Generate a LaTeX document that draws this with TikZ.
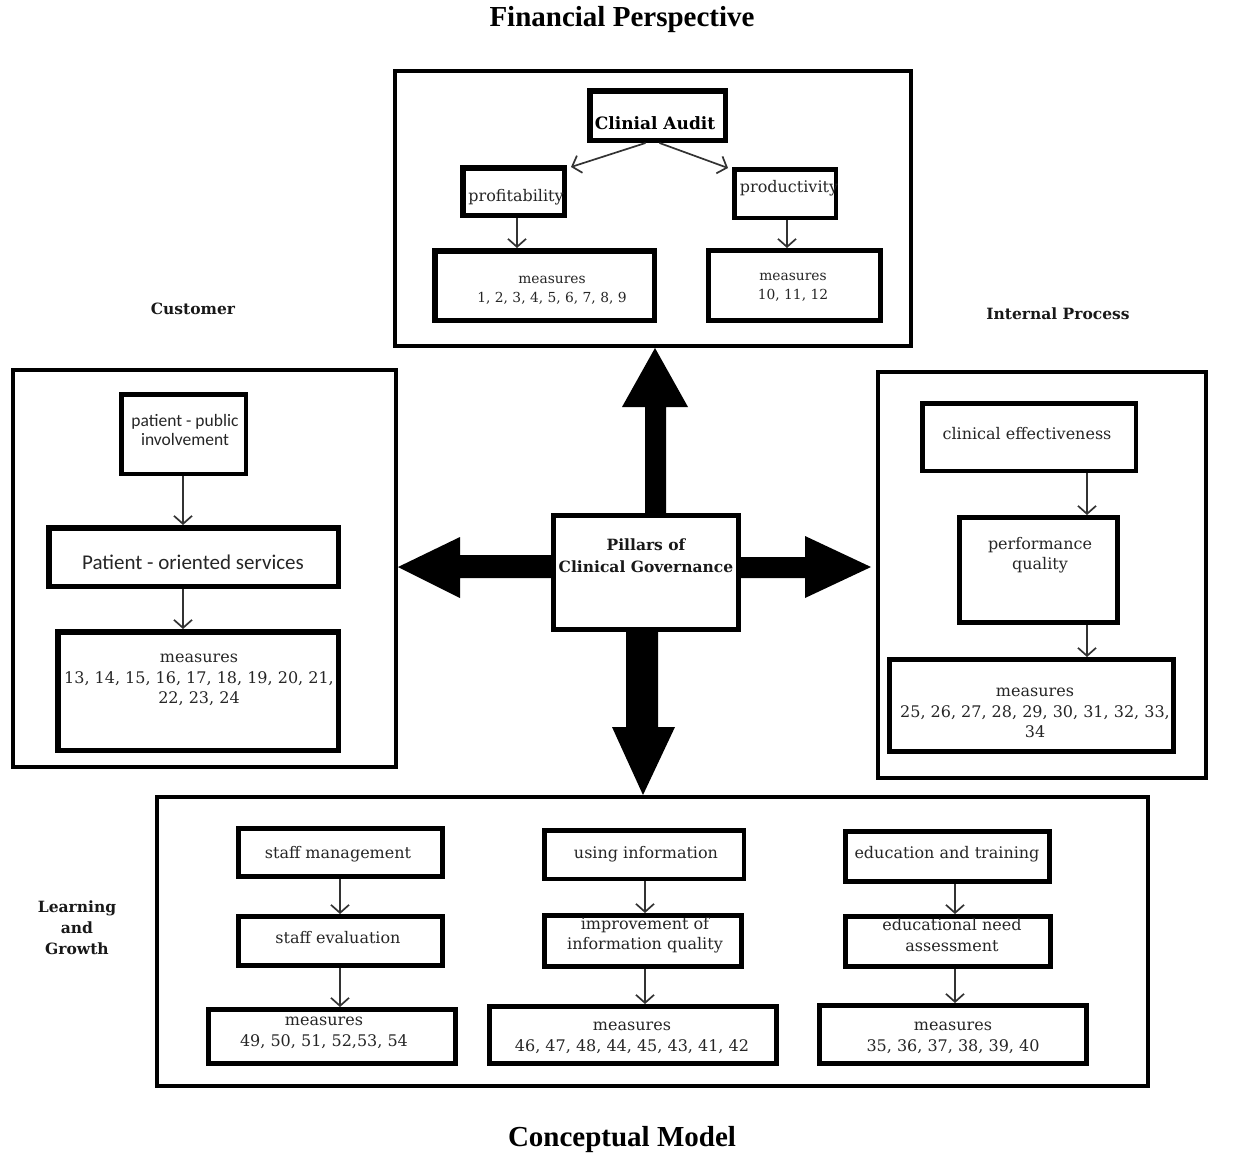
\documentclass[tikz,border=0pt]{standalone}
\usepackage{fontspec}
\setmainfont{DejaVu Serif}
\newfontfamily\ttlfont{Liberation Serif}
\newfontfamily\sansf{Carlito}
\usetikzlibrary{arrows.meta}
\begin{document}
\begin{tikzpicture}[x=1pt,y=-1pt,
  bx/.style={draw, fill=white, inner sep=0pt, line width=5pt},
  outerbox/.style={draw, inner sep=0pt, line width=4pt},
  txt/.style={inner sep=0pt, align=center, text=black!85, font=\fontsize{16}{20.5}\selectfont},
  smalltxt/.style={inner sep=0pt, align=center, text=black!85, font=\fontsize{13.8}{19}\selectfont},
  head/.style={inner sep=0pt, align=center, text=black!90, font=\fontsize{15.5}{21}\selectfont\bfseries},
  ttl/.style={inner sep=0pt, font=\fontsize{29}{32}\selectfont\ttlfont\bfseries},
  sarr/.style={line width=1.7pt, draw=black!80, -{Straight Barb[length=8pt,width=18pt]}},
  bigarr/.style={fill=black}
]
\useasboundingbox (0,0) rectangle (1243,1157);

% titles and panel labels
\node[ttl] (tfin) at (622,20) {Financial Perspective};
\node[ttl] (tcm) at (622,1140) {Conceptual Model};
\node[head] (tcust) at (193,309) {Customer};
\node[head] (tint) at (1058,314) {Internal Process};
\node[head] (tlg) at (77,928) {Learning\\and\\Growth};

% outer panels
\node[outerbox, minimum width=516, minimum height=275] (fin) at (653,208.5) {};
\node[outerbox, minimum width=383, minimum height=397] (cust) at (204.5,568.5) {};
\node[outerbox, minimum width=328, minimum height=406] (intp) at (1042,575) {};
\node[outerbox, minimum width=991, minimum height=289] (learn) at (652.5,941.5) {};

% centre box
\node[bx, minimum width=185, minimum height=114] (pil) at (646,572.5) {};
\node[head, font=\fontsize{15.5}{22}\selectfont\bfseries] (pilt) at (646,556) {Pillars of\\Clinical Governance};

% big arrows
\fill[bigarr] (pil.north -| 645,0) -- (645,407) -- (622,407) -- (fin.south -| 655,0) -- (688,407) -- (666,407) -- (pil.north -| 666,0) -- cycle;
\fill[bigarr] (pil.east |- 0,557) -- (805,557) -- (805,536) -- (871,567) -- (805,598) -- (805,578) -- (pil.east |- 0,578) -- cycle;
\fill[bigarr] (pil.west |- 0,555) -- (460,555) -- (460,537) -- (cust.east |- 0,567) -- (460,598) -- (460,578) -- (pil.west |- 0,578) -- cycle;
\fill[bigarr] (pil.south -| 626,0) -- (626,727) -- (612,727) -- (learn.north -| 643,0) -- (675,727) -- (658,727) -- (pil.south -| 658,0) -- cycle;

% ---- Financial
\node[bx, line width=5.5pt, minimum width=135.5, minimum height=49.5] (audit) at (657.5,115.5) {};
\node[head, font=\fontsize{17}{20}\selectfont\bfseries, text=black] (auditt) at (655,123) {Clinial Audit};
\node[bx, line width=5.5pt, minimum width=101.5, minimum height=47.5] (profit) at (513.5,191.5) {};
\node[txt] (profitt) at (516,197) {profitability};
\node[bx, line width=4.5pt, minimum width=101.5, minimum height=48.5] (prod) at (785,193.5) {};
\node[txt] (prodt) at (789,188) {productivity};
\node[bx, line width=5.5pt, minimum width=219.5, minimum height=69.5] (m1) at (544.5,285.5) {};
\node[smalltxt] (m1t) at (552,290) {measures\\1, 2, 3, 4, 5, 6, 7, 8, 9};
\node[bx, minimum width=172, minimum height=70] (m10) at (794.5,285.5) {};
\node[smalltxt] (m10t) at (793,287) {measures\\10, 11, 12};

\draw[sarr] ([xshift=-12pt]audit.south) -- ([xshift=4pt,yshift=-2pt]profit.north east);
\draw[sarr] ([xshift=2pt]audit.south) -- ([xshift=-4pt,yshift=-1pt]prod.north west);
\draw[sarr] (profit.south -| 517,0) -- (m1.north -| 517,0);
\draw[sarr] (prod.south -| 787,0) -- (m10.north -| 787,0);

% ---- Customer
\node[bx, line width=4.5pt, minimum width=124.5, minimum height=79.5] (ppi) at (183.5,434) {};
\node[txt, font=\fontsize{17.5}{19}\selectfont\sansf] (ppit) at (185,430) {patient - public\\involvement};
\node[bx, line width=5.5pt, minimum width=289.5, minimum height=58.5] (pos) at (193.5,557) {};
\node[txt, font=\fontsize{21}{22}\selectfont\sansf] (post) at (193,562) {Patient - oriented services};
\node[bx, line width=5.5pt, minimum width=280.5, minimum height=118.5] (m13) at (198,691) {};
\node[txt] (m13t) at (199,680) {measures\\13, 14, 15, 16, 17, 18, 19, 20, 21,\\22, 23, 24};

\draw[sarr] (ppi.south -| 183,0) -- (pos.north -| 183,0);
\draw[sarr] (pos.south -| 183,0) -- (m13.north -| 183,0);

% ---- Internal Process
\node[bx, line width=4.5pt, minimum width=213.5, minimum height=67.5] (ce) at (1029,437) {};
\node[txt] (cet) at (1027,434) {clinical effectiveness};
\node[bx, minimum width=158, minimum height=105] (pq) at (1038.5,570) {};
\node[txt] (pqt) at (1040,555) {performance\\quality};
\node[bx, minimum width=284, minimum height=92] (m25) at (1031.5,705.5) {};
\node[txt] (m25t) at (1035,713) {measures\\25, 26, 27, 28, 29, 30, 31, 32, 33,\\34};

\draw[sarr] (ce.south -| 1087,0) -- (pq.north -| 1087,0);
\draw[sarr] (pq.south -| 1087,0) -- (m25.north -| 1087,0);

% ---- Learning and Growth
\node[bx, minimum width=204, minimum height=48] (sm) at (340.5,852.5) {};
\node[txt] (smt) at (338,854) {staff management};
\node[bx, minimum width=204, minimum height=49] (se) at (340.5,941) {};
\node[txt] (set) at (338,938) {staff evaluation};
\node[bx, minimum width=247, minimum height=54] (m49) at (332,1036.5) {};
\node[txt] (m49t) at (324,1033) {measures\\49, 50, 51, 52,53, 54};
\draw[sarr] (sm.south -| 340,0) -- (se.north -| 340,0);
\draw[sarr] (se.south -| 340,0) -- (m49.north -| 340,0);

\node[bx, line width=4.5pt, minimum width=199.5, minimum height=48.5] (ui) at (644,854.5) {};
\node[txt] (uit) at (646,854) {using information};
\node[bx, minimum width=197, minimum height=51] (iiq) at (643,941) {};
\node[txt] (iiqt) at (645,935) {improvement of\\information quality};
\node[bx, minimum width=287, minimum height=57] (m46) at (633,1035) {};
\node[txt] (m46t) at (632,1038) {measures\\46, 47, 48, 44, 45, 43, 41, 42};
\draw[sarr] (ui.south -| 645,0) -- (iiq.north -| 645,0);
\draw[sarr] (iiq.south -| 645,0) -- (m46.north -| 645,0);

\node[bx, minimum width=204, minimum height=50] (et) at (947.5,856.5) {};
\node[txt] (ett) at (947,854) {education and training};
\node[bx, minimum width=205, minimum height=50] (ena) at (948,941.5) {};
\node[txt] (enat) at (952,935) {educational need\\assessment};
\node[bx, minimum width=267, minimum height=58] (m35) at (953,1034.5) {};
\node[txt] (m35t) at (953,1038) {measures\\35, 36, 37, 38, 39, 40};
\draw[sarr] (et.south -| 955,0) -- (ena.north -| 955,0);
\draw[sarr] (ena.south -| 955,0) -- (m35.north -| 955,0);
\end{tikzpicture}
\end{document}
